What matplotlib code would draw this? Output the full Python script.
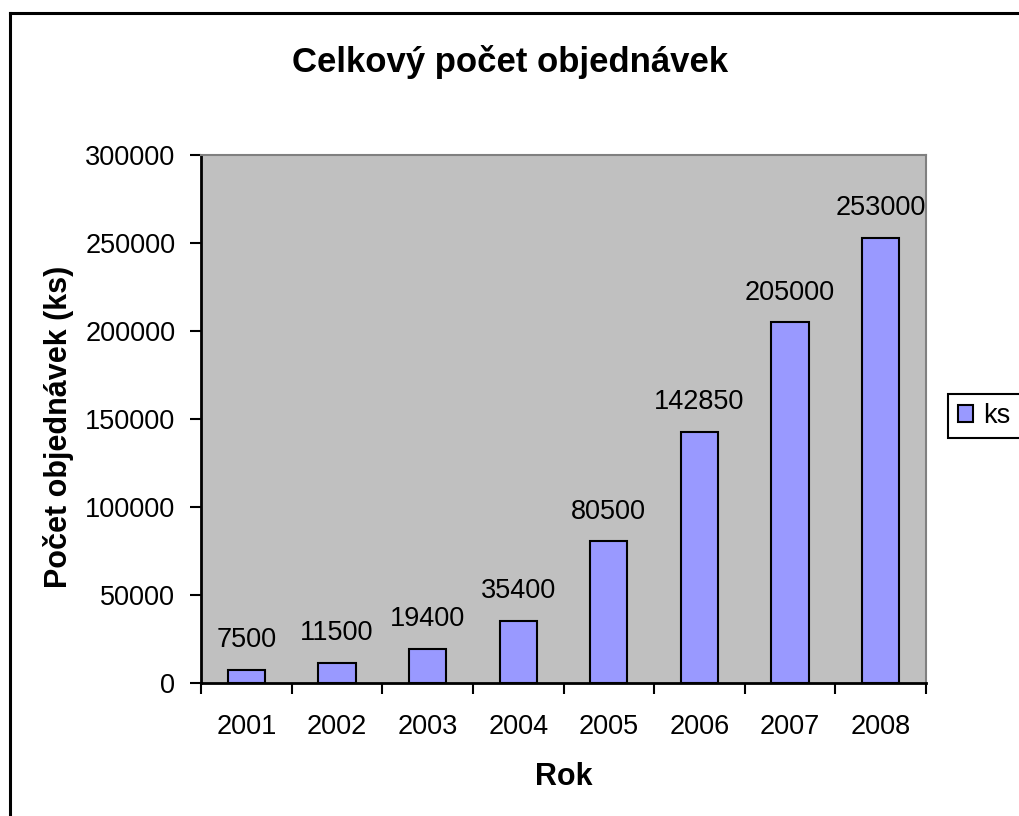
import matplotlib
matplotlib.use("Agg")
import matplotlib.pyplot as plt
from matplotlib.lines import Line2D
from matplotlib.patches import Rectangle
import numpy as np

years = ["2001", "2002", "2003", "2004", "2005", "2006", "2007", "2008"]
values = [7500, 11500, 19400, 35400, 80500, 142850, 205000, 253000]
yticks = [0, 50000, 100000, 150000, 200000, 250000, 300000]
series_name = "ks"

plt.rcParams['font.family'] = ['Liberation Sans', 'DejaVu Sans']

W, H = 1019, 816
fig = plt.figure(figsize=(W / 100, H / 100), dpi=100)
fig.patch.set_facecolor("white")

# outer chart frame (left and top visible)
fig.add_artist(Line2D([9.5 / W, 9.5 / W], [0, 1 - 12.5 / H], transform=fig.transFigure,
                      color="black", lw=2.2, solid_capstyle="projecting"))
fig.add_artist(Line2D([9.5 / W, 1], [1 - 12.5 / H, 1 - 12.5 / H], transform=fig.transFigure,
                      color="black", lw=2.2, solid_capstyle="projecting"))

FS = 19.5
left, right, top, bottom = 201, 926, 155, 683
ax = fig.add_axes([left / W, 1 - bottom / H, (right - left) / W, (bottom - top) / H])
ax.set_facecolor("#C0C0C0")

x = np.arange(len(years))
bars = ax.bar(x, values, width=0.41, color="#9999FF", edgecolor="black", linewidth=1.5,
              label=series_name, zorder=3)

for xi, v in zip(x, values):
    ax.annotate(str(v), (xi, v), xytext=(0, 12), textcoords="offset points",
                ha="center", va="bottom", fontsize=FS)

ax.set_xlim(-0.5, len(years) - 0.5)
ax.set_ylim(0, 300000)
ax.set_yticks(yticks)
ax.set_yticklabels([str(t) for t in yticks], fontsize=FS)
ax.set_xticks(x)
ax.set_xticklabels(years, fontsize=FS)
ax.tick_params(axis="x", which="major", length=0, pad=22)
ax.set_xticks(np.arange(-0.5, len(years), 1.0), minor=True)
ax.tick_params(axis="x", which="minor", length=8, width=1.5, direction="out")
ax.tick_params(axis="y", length=8, width=1.5, direction="out", pad=10.5)

for s in ["top", "right"]:
    ax.spines[s].set_color("#808080")
    ax.spines[s].set_linewidth(1.5)
for s in ["left", "bottom"]:
    ax.spines[s].set_color("black")
    ax.spines[s].set_linewidth(2)

ax.set_xlabel("Rok", fontsize=22, fontweight="bold", labelpad=16)
ax.set_ylabel("Počet objednávek (ks)", fontsize=22, fontweight="bold")
ax.yaxis.set_label_coords((74 - left) / (right - left), (bottom - 427) / (bottom - top))

fig.text(510 / W, 1 - 62 / H, "Celkový počet objednávek", ha="center", va="center",
         fontsize=25, fontweight="bold")

# legend box (extends beyond the right edge as in the reference)
fig.add_artist(Rectangle((948 / W, 1 - 438 / H), 90 / W, 44 / H, transform=fig.transFigure,
                         facecolor="white", edgecolor="black", linewidth=1.5, zorder=5))
leg = fig.legend(handles=[bars], labels=[series_name], loc="center left",
                 bbox_to_anchor=(949 / W, 1 - 416 / H),
                 bbox_transform=fig.transFigure, fontsize=FS, frameon=False,
                 handlelength=0.55, handleheight=0.55,
                 handletextpad=0.35, borderpad=0.35, borderaxespad=0)
leg.set_zorder(6)

fig.savefig("out.png", dpi=100, facecolor="white")
